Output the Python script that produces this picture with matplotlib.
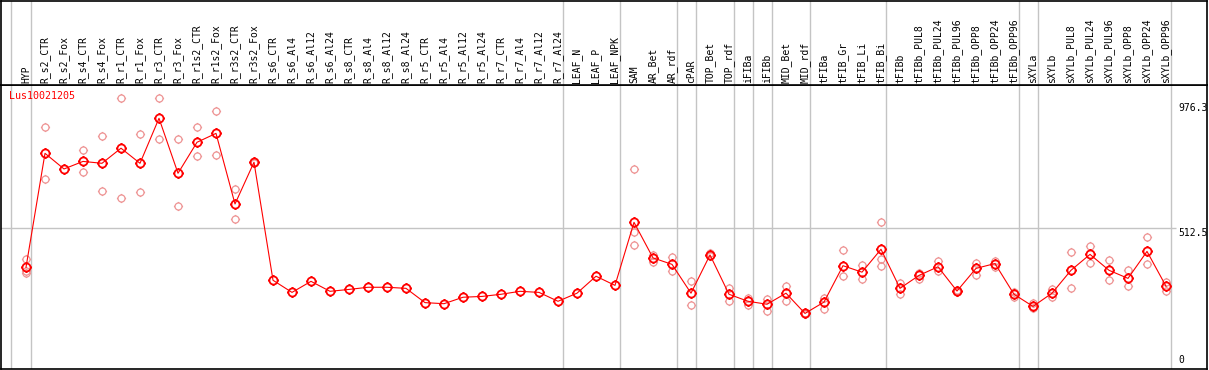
import numpy as np
import matplotlib
matplotlib.use('Agg')
import matplotlib.pyplot as plt
from matplotlib.path import Path

labels = ['HYP', 'R_s2_CTR', 'R_s2_Fox', 'R_s4_CTR', 'R_s4_Fox', 'R_r1_CTR', 'R_r1_Fox',
          'R_r3_CTR', 'R_r3_Fox', 'R_r1s2_CTR', 'R_r1s2_Fox', 'R_r3s2_CTR', 'R_r3s2_Fox',
          'R_s6_CTR', 'R_s6_Al4', 'R_s6_Al12', 'R_s6_Al24', 'R_s8_CTR', 'R_s8_Al4', 'R_s8_Al12',
          'R_s8_Al24', 'R_r5_CTR', 'R_r5_Al4', 'R_r5_Al12', 'R_r5_Al24', 'R_r7_CTR', 'R_r7_Al4',
          'R_r7_Al12', 'R_r7_Al24', 'LEAF_N', 'LEAF_P', 'LEAF_NPK', 'SAM', 'AR_Bet', 'AR_rdf',
          'cPAR', 'TOP_Bet', 'TOP_rdf', 'iFIBa', 'iFIBb', 'MID_Bet', 'MID_rdf', 'tFIBa',
          'tFIB_Gr', 'tFIB_Li', 'tFIB_Bi', 'tFIBb', 'tFIBb_PUL8', 'tFIBb_PUL24', 'tFIBb_PUL96',
          'tFIBb_OPP8', 'tFIBb_OPP24', 'tFIBb_OPP96', 'sXYLa', 'sXYLb', 'sXYLb_PUL8',
          'sXYLb_PUL24', 'sXYLb_PUL96', 'sXYLb_OPP8', 'sXYLb_OPP24', 'sXYLb_OPP96']

means = [368, 791, 733, 761, 754, 810, 754, 921, 717, 832, 865, 603, 758,
         320, 275, 316, 279, 286, 294, 294, 290, 237, 233, 257, 260, 268, 279, 275, 242,
         272, 335, 301, 535, 403, 379, 272, 414, 268, 242, 231, 272, 197, 239,
         374, 350, 435, 290, 338, 370, 280, 364, 382, 268, 223, 272, 357,
         416, 357, 327, 427, 298]

# replicate samples per condition (empty where they sit under the mean)
reps = [[400, 355, 348], [888, 695], [], [802, 721], [854, 650], [995, 624], [862, 646],
        [995, 843], [843, 594], [888, 780], [947, 784], [658, 546], [756, 760],
        [], [], [], [], [], [], [], [], [], [], [], [], [], [], [], [],
        [], [], [], [732, 500, 450], [415, 387], [405, 353],
        [316, 227], [422, 410], [293, 242], [256, 227], [251, 207], [299, 244], [199, 195],
        [253, 215], [431, 335], [376, 326], [535, 400, 374], [309, 269], [348, 326],
        [392, 353], [283, 277], [384, 338], [392, 368], [275, 257], [235, 218], [288, 258],
        [424, 290], [446, 383], [394, 320], [357, 298], [479, 379], [312, 281]]

separators = [-0.8, 0.25, 28.25, 31.25, 34.25, 35.25, 37.25, 38.25, 39.25, 41.25,
              45.25, 52.25, 53.25, 60.25]
title = 'Lus10021205'

# circle with four small ticks
circ = Path.unit_circle()
ticks = Path([(1, 0), (1.3, 0), (-1, 0), (-1.3, 0), (0, 1), (0, 1.3), (0, -1), (0, -1.3)],
             [Path.MOVETO, Path.LINETO] * 4)
tick_circle = Path.make_compound_path(circ, ticks)

mono = 'DejaVu Sans Mono'
red = '#ff0000'
pink = '#ee9494'
grey = '#c4c4c4'

W, H = 1209, 370
fig = plt.figure(figsize=(W / 100, H / 100), dpi=100)
ax = fig.add_axes([1 / W, 1 / H, 1206 / W, 284 / H])
hax = fig.add_axes([1 / W, 285 / H, 1206 / W, 84 / H], sharex=ax)

x = np.arange(len(labels))
px0, pxs = 26, 19
ax.set_xlim((1 - px0) / pxs, (1207 - px0) / pxs)
y0, ys = 366.5, 0.2695
ax.set_ylim((y0 - 369) / ys, (y0 - 85) / ys)
hax.set_ylim(0, 84)

for a in (ax, hax):
    a.set_xticks([])
    a.set_yticks([])
    for s in a.spines.values():
        s.set_color('black')
        s.set_linewidth(1.2)
    for sx in separators:
        a.axvline(sx, color=grey, lw=1.0, zorder=1)

ax.hlines(512.5, -1.5, (1176 - px0) / pxs, color=grey, lw=1.0, zorder=1)

for i, r in enumerate(reps):
    if r:
        ax.plot([i] * len(r), r, linestyle='none', marker=tick_circle, ms=6.6,
                mfc='none', mec=pink, mew=0.9, zorder=2)

ax.plot(x, means, color=red, lw=0.8, zorder=3)
ax.plot(x, means, linestyle='none', marker=tick_circle, ms=7.6,
        mfc='none', mec=red, mew=1.3, zorder=4)

for i, lab in enumerate(labels):
    hax.text(i, 2.3, lab, rotation=90, ha='center', va='bottom',
             family=mono, fontsize=7, color='black')

xr = (1178 - px0) / pxs
ax.text(xr, 976.3, '976.3', ha='left', va='top', family=mono, fontsize=7)
ax.text(xr, 512.5, '512.5', ha='left', va='top', family=mono, fontsize=7)
ax.text(xr, 5, '0', ha='left', va='bottom', family=mono, fontsize=7)
ax.text((9 - px0) / pxs, 1022, title, ha='left', va='top', family=mono,
        fontsize=7.2, color=red)

fig.savefig('out.png', dpi=100)
plt.close()
